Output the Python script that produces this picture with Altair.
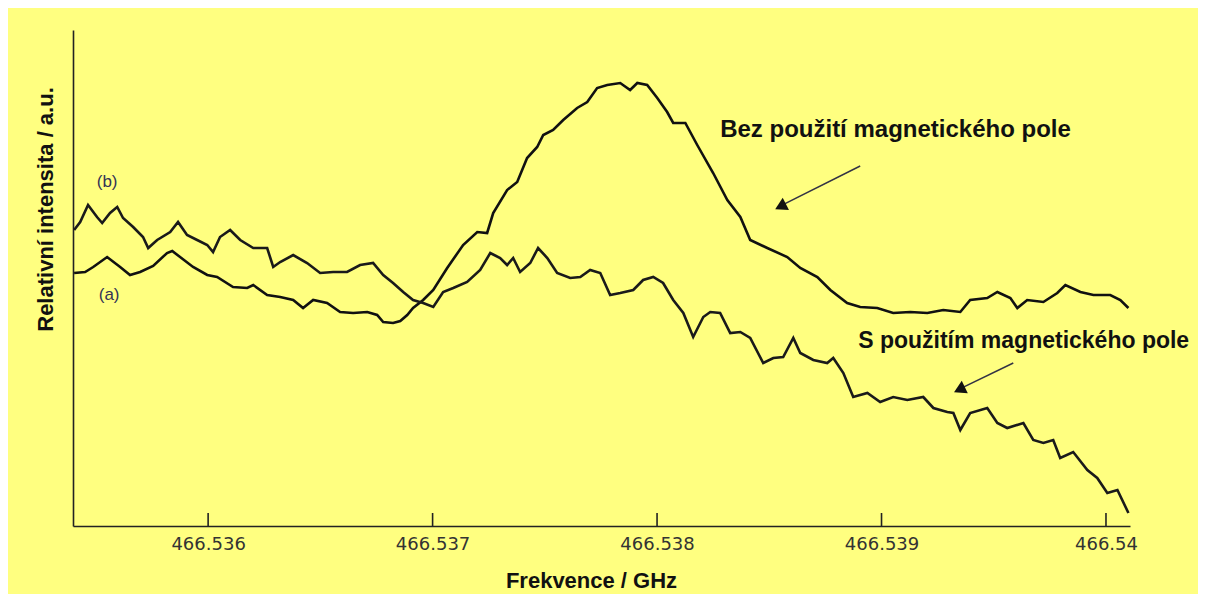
import altair as alt
import pandas as pd

# Curve (a) - "Bez použití magnetického pole"
freq_a = [466.535403, 466.535452, 466.535488, 466.535550, 466.535608, 466.535652, 466.535697,
          466.535755, 466.535817, 466.535840, 466.535875, 466.535933, 466.535996, 466.536040,
          466.536111, 466.536174, 466.536201, 466.536263, 466.536321, 466.536379, 466.536423,
          466.536468, 466.536530, 466.536588, 466.536646, 466.536709, 466.536753, 466.536780,
          466.536824, 466.536856, 466.536887, 466.536913, 466.536958, 466.537003, 466.537065,
          466.537136, 466.537199, 466.537243, 466.537270, 466.537332, 466.537377, 466.537421,
          466.537466, 466.537493, 466.537537, 466.537582, 466.537644, 466.537689, 466.537733,
          466.537778, 466.537836, 466.537880, 466.537912, 466.537956, 466.538001, 466.538045,
          466.538072, 466.538126, 466.538179, 466.538250, 466.538313, 466.538371, 466.538415,
          466.538491, 466.538580, 466.538638, 466.538714, 466.538772, 466.538847, 466.538905,
          466.538981, 466.539052, 466.539128, 466.539204, 466.539275, 466.539351, 466.539395,
          466.539471, 466.539516, 466.539574, 466.539605, 466.539649, 466.539721, 466.539783,
          466.539819, 466.539886, 466.539944, 466.540019, 466.540064, 466.540100]
int_a = [253, 254, 259, 269, 259, 251, 254,
         260, 273, 275, 269, 259, 251, 249,
         239, 238, 241, 231, 229, 226, 218,
         226, 223, 214, 213, 214, 211, 204,
         203, 205, 211, 218, 226, 236, 258,
         281, 294, 293, 313, 336, 344, 368,
         379, 391, 396, 406, 418, 424, 438,
         441, 443, 436, 443, 441, 428, 414,
         403, 403, 381, 353, 326, 309, 286,
         278, 269, 258, 249, 236, 223, 219,
         218, 213, 214, 213, 216, 214, 226,
         228, 234, 228, 218, 226, 224, 233,
         241, 234, 231, 231, 226, 218]

# Curve (b) - "S použitím magnetického pole"
freq_b = [466.535403, 466.535430, 466.535465, 466.535505, 466.535528, 466.535563, 466.535595,
          466.535621, 466.535666, 466.535710, 466.535733, 466.535773, 466.535831, 466.535866,
          466.535906, 466.535951, 466.535996, 466.536022, 466.536053, 466.536098, 466.536143,
          466.536201, 466.536263, 466.536290, 466.536321, 466.536379, 466.536441, 466.536499,
          466.536557, 466.536619, 466.536677, 466.536735, 466.536780, 466.536824, 466.536869,
          466.536913, 466.536958, 466.537003, 466.537047, 466.537092, 466.537154, 466.537212,
          466.537257, 466.537301, 466.537332, 466.537359, 466.537390, 466.537435, 466.537470,
          466.537511, 466.537555, 466.537613, 466.537658, 466.537702, 466.537747, 466.537791,
          466.537836, 466.537894, 466.537938, 466.537983, 466.538027, 466.538072, 466.538117,
          466.538161, 466.538206, 466.538237, 466.538281, 466.538326, 466.538371, 466.538415,
          466.538473, 466.538518, 466.538562, 466.538607, 466.538638, 466.538696, 466.538758,
          466.538785, 466.538830, 466.538874, 466.538937, 466.538994, 466.539052, 466.539115,
          466.539186, 466.539231, 466.539293, 466.539320, 466.539351, 466.539395, 466.539471,
          466.539516, 466.539560, 466.539632, 466.539676, 466.539721, 466.539765, 466.539796,
          466.539854, 466.539917, 466.539961, 466.540006, 466.540051, 466.540100]
int_b = [296, 304, 321, 309, 303, 313, 319,
         308, 299, 289, 278, 286, 294, 304,
         291, 286, 281, 274, 289, 296, 286,
         278, 278, 259, 264, 271, 263, 253,
         254, 254, 261, 263, 251, 243, 234,
         226, 223, 219, 234, 238, 244, 256,
         273, 268, 261, 268, 254, 263, 278,
         268, 253, 248, 249, 256, 253, 231,
         233, 236, 246, 249, 243, 226, 213,
         189, 209, 214, 213, 193, 194, 188,
         163, 168, 169, 188, 173, 166, 163,
         168, 153, 129, 133, 124, 129, 126,
         129, 118, 114, 113, 96, 113, 118,
         103, 98, 103, 86, 83, 86, 68,
         74, 56, 48, 33, 36, 13]

x_domain = [466.535398, 466.540107]
y_domain = [0, 496]
tick_values = [466.536, 466.537, 466.538, 466.539, 466.540]

# Annotations
ann_text = ["Bez použití magnetického pole", "S použitím magnetického pole"]
ann_x = [466.538281, 466.538896]
ann_y = [389, 178]
ann_size = [24, 23]
lab_text = ["(b)", "(a)"]
lab_x = [466.535550, 466.535559]
lab_y = [344, 231]
arrow_x1 = [466.538905, 466.539587]
arrow_y1 = [360, 163]
arrow_x2 = [466.538537, 466.539335]
arrow_y2 = [318.7, 135.6]
head_x = [466.538550, 466.539347]
head_y = [319.5, 136.4]
head_angle = [243, 244]

df_a = pd.DataFrame({"f": freq_a, "v": int_a})
df_b = pd.DataFrame({"f": freq_b, "v": int_b})
df_ticks = pd.DataFrame({"f": tick_values})
df_ann = pd.DataFrame({"f": ann_x, "v": ann_y, "t": ann_text, "s": ann_size})
df_lab = pd.DataFrame({"f": lab_x, "v": lab_y, "t": lab_text})
df_arr = pd.DataFrame({"f": arrow_x1, "v": arrow_y1, "f2": arrow_x2, "v2": arrow_y2})
df_head = pd.DataFrame({"f": head_x, "v": head_y, "a": head_angle})

W, H = 1057, 496

xscale = alt.Scale(domain=x_domain, nice=False, zero=False)
yscale = alt.Scale(domain=y_domain, nice=False, zero=False)

x_axis = alt.Axis(
    values=tick_values, format=".3~f", ticks=False, tickSize=0, grid=False,
    domainColor="#222222", domainWidth=1.6,
    labelFont="DejaVu Sans", labelFontSize=18, labelColor="#333333",
    labelPadding=18, labelBaseline="middle", labelFlush=False,
    title="Frekvence / GHz", titleFont="Liberation Sans", titleFontSize=22,
    titleFontWeight="bold", titleColor="#111111", titleX=518, titleY=44,
    titleAlign="center", titleBaseline="top", titleAngle=0,
)
y_axis = alt.Axis(
    ticks=False, labels=False, grid=False, tickSize=0,
    domainColor="#222222", domainWidth=1.6,
    title="Relativní intensita / a.u.", titleFont="Liberation Sans", titleFontSize=22,
    titleFontWeight="bold", titleColor="#111111", titleX=-28, titleY=179,
    titleAlign="center", titleBaseline="middle", titleAngle=270,
)

line_a = alt.Chart(df_a).mark_line(color="#111111", strokeWidth=2.6).encode(
    x=alt.X("f:Q", scale=xscale, axis=x_axis),
    y=alt.Y("v:Q", scale=yscale, axis=y_axis),
)
line_b = alt.Chart(df_b).mark_line(color="#1a1a1a", strokeWidth=2.6).encode(
    x=alt.X("f:Q", scale=xscale),
    y=alt.Y("v:Q", scale=yscale),
)
ticks = alt.Chart(df_ticks).mark_rule(color="#222222", strokeWidth=1.6).encode(
    x=alt.X("f:Q", scale=xscale),
    y=alt.value(H - 13), y2=alt.value(H),
)
ann = alt.Chart(df_ann).mark_text(
    font="Liberation Sans", fontWeight="bold", color="#111111",
    align="left", baseline="alphabetic",
).encode(
    x=alt.X("f:Q", scale=xscale), y=alt.Y("v:Q", scale=yscale), text="t:N",
    size=alt.Size("s:Q", scale=None, legend=None),
)
labs = alt.Chart(df_lab).mark_text(
    font="Liberation Sans", fontSize=17, color="#333355", align="center", baseline="middle",
).encode(x=alt.X("f:Q", scale=xscale), y=alt.Y("v:Q", scale=yscale), text="t:N")
arrows = alt.Chart(df_arr).mark_rule(color="#333344", strokeWidth=1.5).encode(
    x=alt.X("f:Q", scale=xscale), y=alt.Y("v:Q", scale=yscale),
    x2="f2:Q", y2="v2:Q",
)
heads = alt.Chart(df_head).mark_point(
    shape="triangle-up", filled=True, color="#111111", size=190, opacity=1,
).encode(
    x=alt.X("f:Q", scale=xscale), y=alt.Y("v:Q", scale=yscale),
    angle=alt.Angle("a:Q", scale=None),
)

chart = alt.layer(line_a, line_b, ticks, ann, labs, arrows, heads).properties(
    width=W, height=H,
    autosize=alt.AutoSizeParams(type="none"),
    padding={"left": 65, "top": 22, "right": 68, "bottom": 68},
    background="#FFFF80",
).configure_view(stroke=None)

chart.save("out.html", embed_options={"renderer": "svg", "actions": False})
